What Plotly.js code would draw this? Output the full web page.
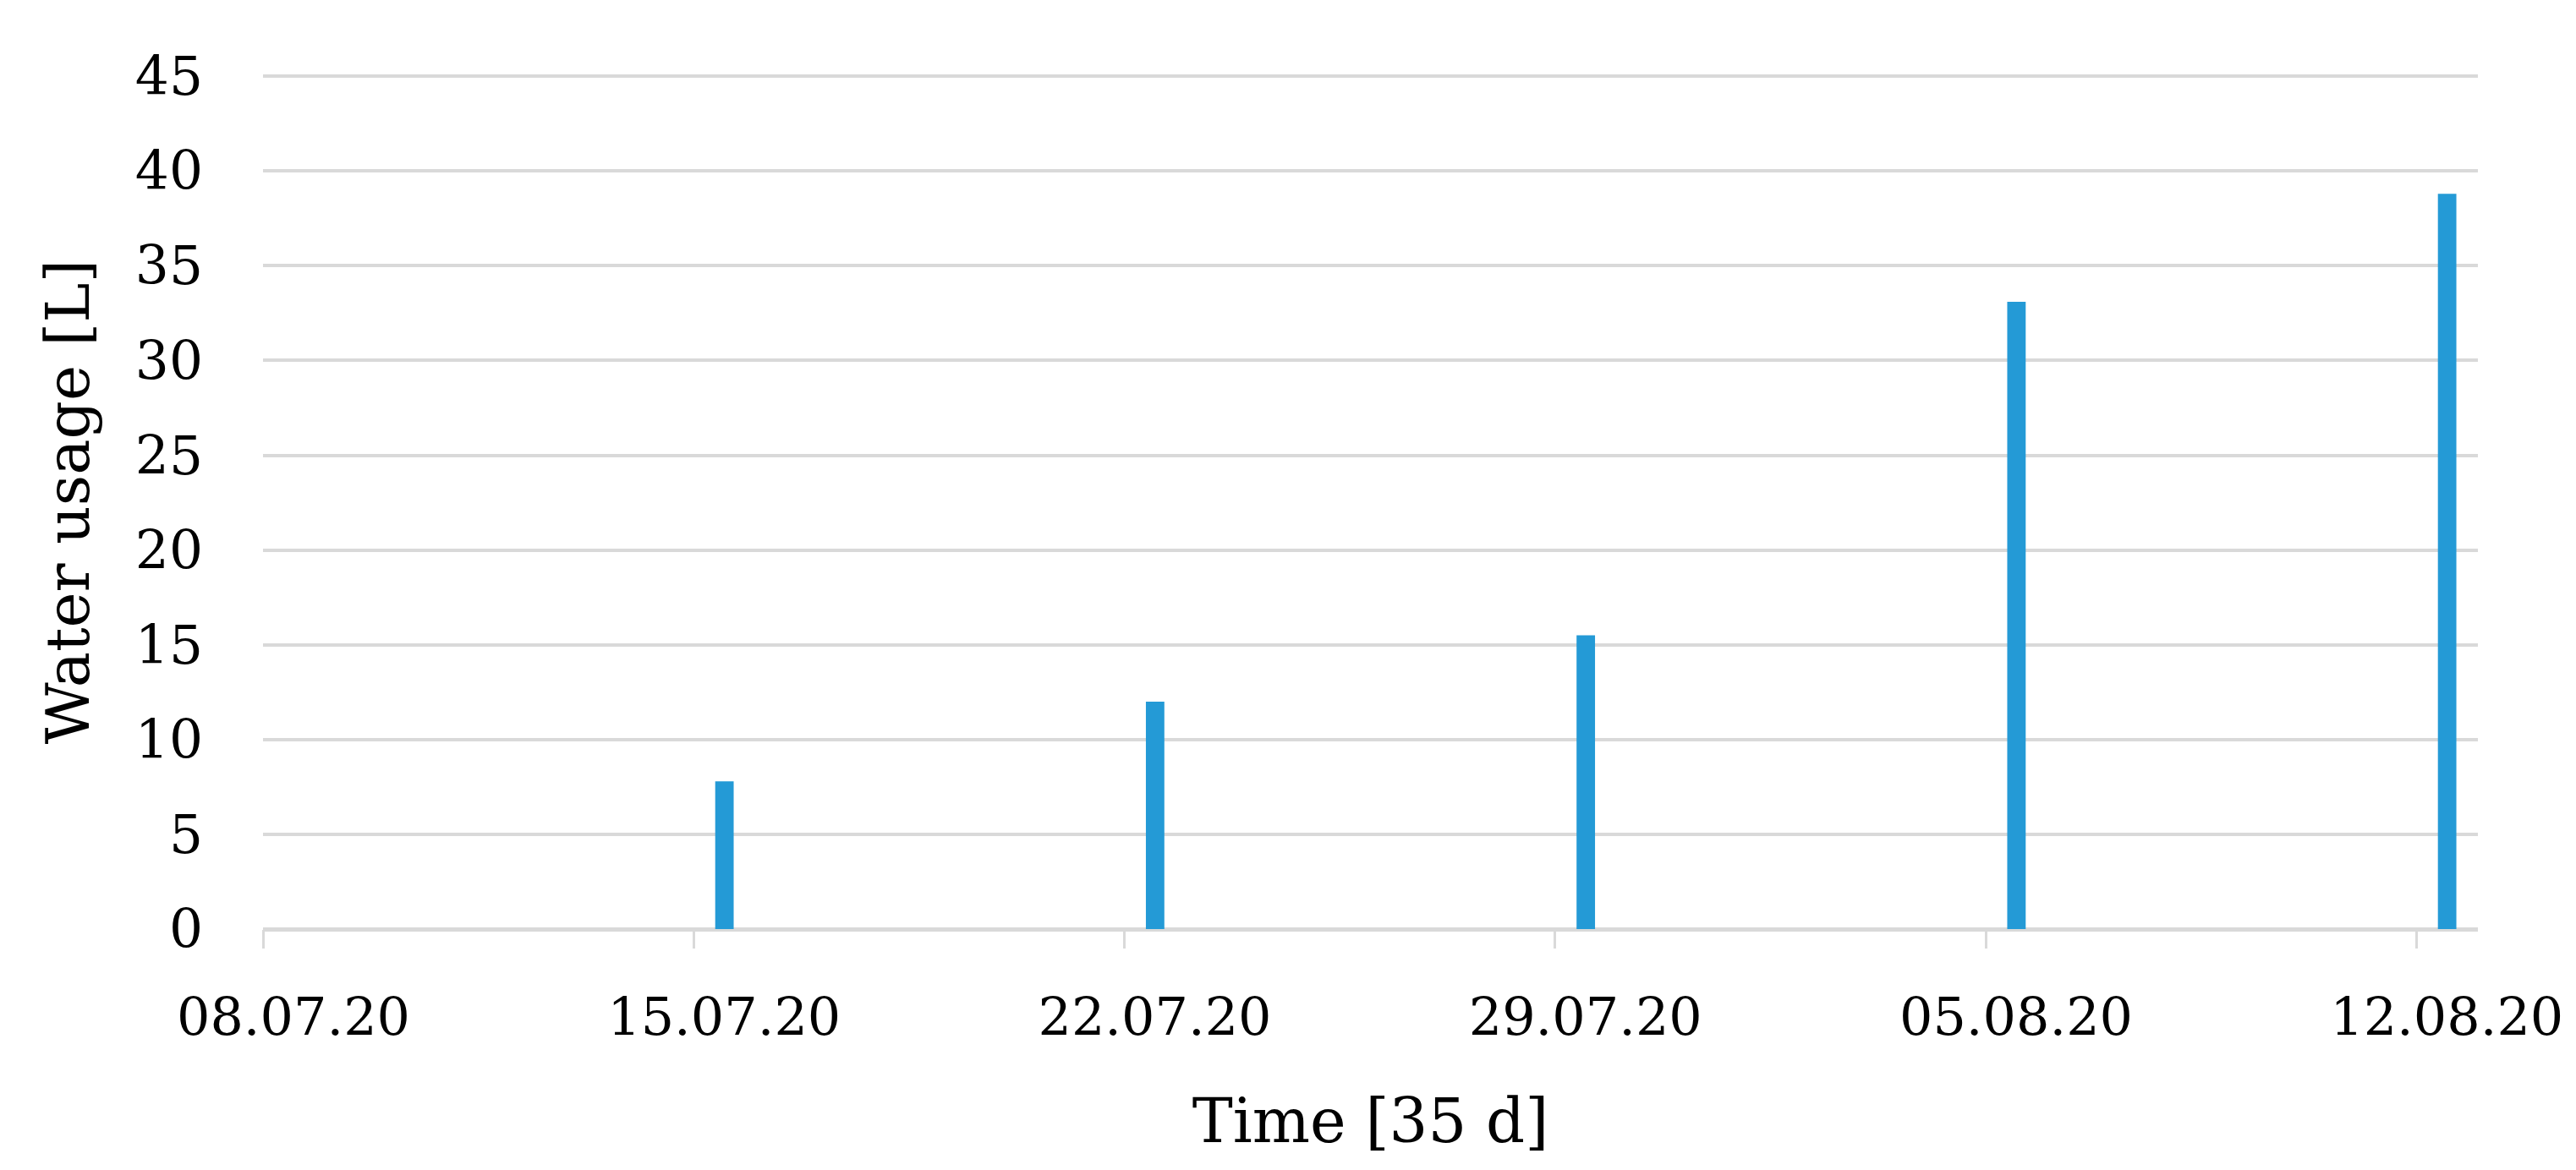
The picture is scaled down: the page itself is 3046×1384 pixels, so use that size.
<!DOCTYPE html>
<html>
<head>
<meta charset="utf-8">
<script src="https://cdn.plot.ly/plotly-3.0.1.min.js"></script>
<style>html,body{margin:0;padding:0;background:#fff;}#chart{width:3046px;height:1384px;}</style>
</head>
<body>
<div id="chart"></div>
<script>
// Data
const dates = ["2020-07-15", "2020-07-22", "2020-07-29", "2020-08-05", "2020-08-12"];
const waterUsage = [7.8, 12.0, 15.5, 33.1, 38.8];
const xRange = ["2020-07-08", "2020-08-13"];
const yRange = [0, 45.1];
const xTitle = "Time [35 d]";
const yTitle = "Water usage [L]";

const DAY = 86400000;
const fontFamily = "'DejaVu Serif', 'Liberation Serif', serif";

const trace = {
  type: "bar",
  x: dates,
  y: waterUsage,
  xperiod: DAY,
  xperiodalignment: "middle",
  width: 0.3 * DAY,
  marker: { color: "#249AD6", line: { width: 0 } },
  hoverinfo: "x+y"
};

const layout = {
  width: 3046,
  height: 1384,
  margin: { l: 311, r: 116, t: 88, b: 285 },
  paper_bgcolor: "#ffffff",
  plot_bgcolor: "#ffffff",
  showlegend: false,
  font: { family: fontFamily, color: "#000000", size: 63 },
  xaxis: {
    type: "date",
    range: xRange,
    tick0: "2020-07-08",
    dtick: 7 * DAY,
    tickformat: "%d.%m.%y",
    ticks: "outside",
    ticklen: 22,
    tickwidth: 3,
    tickcolor: "#d9d9d9",
    ticklabelshift: 36,
    ticklabelstandoff: 28,
    showgrid: false,
    showline: false,
    zeroline: false,
    tickfont: { family: fontFamily, size: 62, color: "#000000" },
    title: { text: xTitle, font: { family: fontFamily, size: 72, color: "#000000" }, standoff: 62 },
    automargin: false
  },
  yaxis: {
    range: yRange,
    dtick: 5,
    tick0: 0,
    ticks: "",
    showgrid: true,
    gridcolor: "#d9d9d9",
    gridwidth: 4,
    zeroline: true,
    zerolinecolor: "#d9d9d9",
    zerolinewidth: 5,
    showline: false,
    ticklabelstandoff: 70,
    tickfont: { family: fontFamily, size: 63, color: "#000000" },
    title: { text: yTitle, font: { family: fontFamily, size: 71, color: "#000000" }, standoff: 30 },
    automargin: false
  }
};

Plotly.newPlot("chart", [trace], layout, { displayModeBar: false, staticPlot: true });
</script>
</body>
</html>
